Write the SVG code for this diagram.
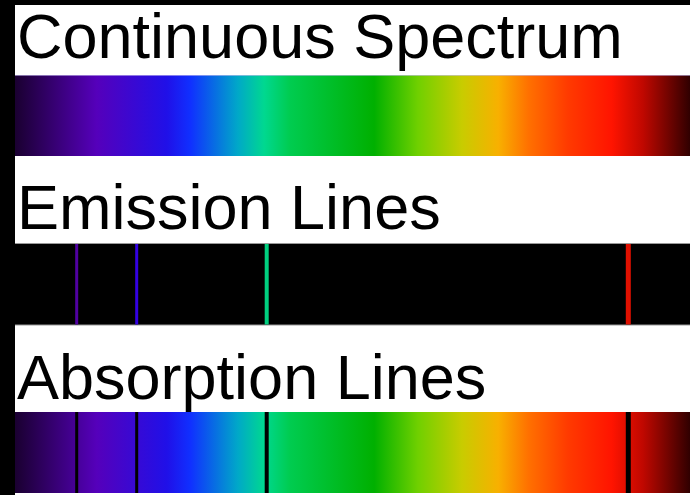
<svg xmlns="http://www.w3.org/2000/svg" width="690" height="495" viewBox="0 0 690 495">
  <defs>
    <linearGradient id="spec" x1="15" y1="0" x2="690" y2="0" gradientUnits="userSpaceOnUse">
      <stop offset="0" stop-color="#1a0030"/>
      <stop offset="0.121" stop-color="#5500bb"/>
      <stop offset="0.225" stop-color="#2010e8"/>
      <stop offset="0.26" stop-color="#1030ff"/>
      <stop offset="0.33" stop-color="#00a8c8"/>
      <stop offset="0.369" stop-color="#00d890"/>
      <stop offset="0.407" stop-color="#00cc50"/>
      <stop offset="0.532" stop-color="#00b000"/>
      <stop offset="0.597" stop-color="#70d000"/>
      <stop offset="0.662" stop-color="#c8cc00"/>
      <stop offset="0.716" stop-color="#f8b000"/>
      <stop offset="0.761" stop-color="#ff7000"/>
      <stop offset="0.819" stop-color="#ff3a00"/>
      <stop offset="0.884" stop-color="#ff1400"/>
      <stop offset="0.93" stop-color="#c00800"/>
      <stop offset="1" stop-color="#300000"/>
    </linearGradient>
    <style>
      .lbl { font-family: "Liberation Sans", Arial, sans-serif; font-size: 63px; fill: #000; }
      .edge { stroke: #999; stroke-width: 1; }
      .abs { stroke: #000; }
    </style>
  </defs>
  <rect x="0" y="0" width="690" height="495" fill="#000"/>
  <rect x="15" y="5" width="675" height="490" fill="#fff"/>

  <g id="continuous">
    <text class="lbl" x="17" y="58">Continuous Spectrum</text>
    <rect x="15" y="75" width="675" height="81" fill="url(#spec)"/>
    <line x1="15" y1="75.5" x2="690" y2="75.5" stroke="#c8c0f0" stroke-width="1" opacity="0.6"/>
  </g>

  <g id="emission">
    <text class="lbl" x="17" y="229">Emission Lines</text>
    <rect x="15" y="243" width="675" height="82" fill="#000"/>
    <line class="edge" x1="15" y1="243.5" x2="690" y2="243.5"/>
    <line class="edge" x1="15" y1="325" x2="690" y2="325"/>
    <line x1="76.7" y1="244" x2="76.7" y2="324.5" stroke="#5000a0" stroke-width="3"/>
    <line x1="136.7" y1="244" x2="136.7" y2="324.5" stroke="#3300e0" stroke-width="3"/>
    <line x1="266.7" y1="244" x2="266.7" y2="324.5" stroke="#00d080" stroke-width="4"/>
    <line x1="628.3" y1="244" x2="628.3" y2="324.5" stroke="#e01000" stroke-width="5"/>
  </g>

  <g id="absorption">
    <text class="lbl" x="17" y="399">Absorption Lines</text>
    <rect x="15" y="412" width="675" height="81" fill="url(#spec)"/>
    <line x1="76.7" y1="412" x2="76.7" y2="493" class="abs" stroke-width="3"/>
    <line x1="136.7" y1="412" x2="136.7" y2="493" class="abs" stroke-width="3"/>
    <line x1="266.7" y1="412" x2="266.7" y2="493" class="abs" stroke-width="4"/>
    <line x1="628.3" y1="412" x2="628.3" y2="493" class="abs" stroke-width="5"/>
  </g>
</svg>
